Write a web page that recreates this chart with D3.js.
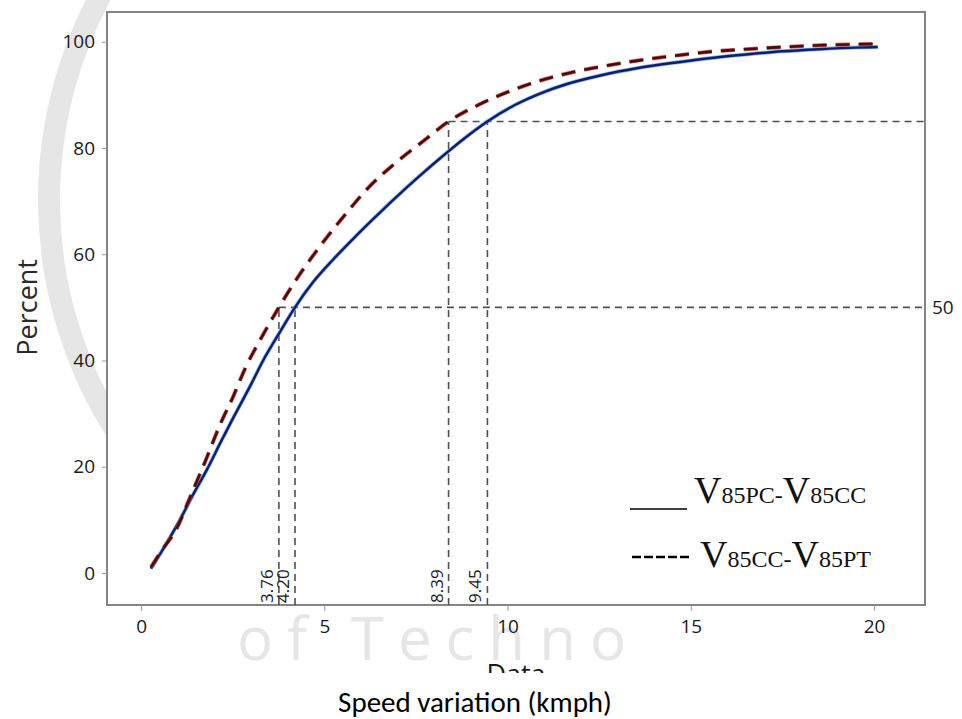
<!DOCTYPE html>
<html>
<head>
<meta charset="utf-8">
<style>
  body { margin: 0; background: #fff; }
  svg { display: block; }
</style>
</head>
<body>
<script src="https://cdn.jsdelivr.net/npm/d3@7"></script>
<script>
// cumulative curves (x = speed variation, y = percent)
const solidX = [0.27, 0.6, 1.06, 1.4, 1.8, 2.2, 2.5, 3.0, 3.33, 3.8, 4.2, 4.7, 5.24, 5.8, 6.33, 7.0, 7.61, 8.2, 8.8, 9.45, 10.2, 10.9, 11.6, 12.5, 13.6, 14.6, 15.5, 16.5, 17.5, 18.5, 19.5, 20.1];
const solidY = [0.8, 4.5, 10, 14.5, 19.5, 25, 29, 35.5, 40, 45.5, 50, 54.8, 59, 63, 66.6, 71, 74.8, 78.3, 81.7, 85, 88.1, 90.3, 92.0, 93.6, 95.1, 96.1, 96.9, 97.6, 98.2, 98.6, 98.9, 99];
const dashX = [0.27, 0.52, 0.98, 1.34, 1.75, 2.16, 2.5, 2.84, 3.3, 3.76, 4.26, 4.97, 5.62, 6.17, 6.98, 7.7, 8.39, 9.17, 9.99, 10.9, 11.8, 12.7, 13.6, 14.6, 15.5, 16.5, 17.5, 18.4, 20.1];
const dashY = [1.1, 3.8, 8.5, 14.3, 21, 28, 33, 38.5, 44.5, 50, 55.5, 62.3, 67.9, 72.3, 77.4, 81.3, 85, 88, 90.5, 92.7, 94.3, 95.5, 96.5, 97.4, 98.1, 98.6, 99, 99.3, 99.6];

// reference drop lines
const refX = [3.76, 4.20, 8.39, 9.45];
const refLevel = [50, 50, 85, 85];
const refLabels = ['3.76', '4.20', '8.39', '9.45'];
const hLevels = [50, 85];
const hStart = [3.76, 8.39];
const hLabels = ['50', ''];

const xTicks = [0, 5, 10, 15, 20];
const yTicks = [0, 20, 40, 60, 80, 100];

const legendNames = [['85PC', '85CC'], ['85CC', '85PT']];

const WIDTH = 962;
const HEIGHT = 719;
const LEFT = 107, RIGHT = 925, TOP = 12, BOTTOM = 605;
const FONT = "'Open Sans', 'DejaVu Sans', sans-serif";

const svg = d3.select('body').append('svg')
  .attr('width', WIDTH)
  .attr('height', HEIGHT);

// faint watermark behind everything
const wm = svg.append('g').attr('fill', '#e6e6e6');
wm.append('path')
  .attr('transform', 'translate(480,200)')
  .attr('d', d3.arc().innerRadius(420).outerRadius(442).startAngle(-2.15).endAngle(-1.0)());
wm.append('text')
  .attr('x', 237).attr('y', 660)
  .attr('font-family', FONT)
  .attr('font-size', 60)
  .attr('letter-spacing', 14)
  .text('of Techno');

const x = d3.scaleLinear().domain([-0.93, 21.39]).range([LEFT, RIGHT]);
const y = d3.scaleLinear().domain([-6.03, 105.6]).range([BOTTOM, TOP]);

// plot area
svg.append('rect')
  .attr('x', LEFT).attr('y', TOP)
  .attr('width', RIGHT - LEFT).attr('height', BOTTOM - TOP)
  .attr('fill', 'white')
  .attr('stroke', '#858585')
  .attr('stroke-width', 2);

// axes
const axisY = d3.axisLeft(y).tickValues(yTicks).tickSize(5).tickPadding(7);
const gy = svg.append('g').attr('transform', `translate(${LEFT},0)`).call(axisY);
const axisX = d3.axisBottom(x).tickValues(xTicks).tickSize(6).tickPadding(9);
const gx = svg.append('g').attr('transform', `translate(0,${BOTTOM})`).call(axisX);
[gx, gy].forEach(g => {
  g.select('.domain').remove();
  g.selectAll('.tick line').attr('stroke', '#999');
  g.selectAll('.tick text')
    .attr('font-family', FONT)
    .attr('font-size', 19)
    .attr('fill', '#1a1a1a');
});

// dashed drop lines
const refStyle = sel => sel
  .attr('stroke', '#505050')
  .attr('stroke-width', 1.6)
  .attr('stroke-dasharray', '7,5')
  .attr('fill', 'none');

svg.append('g').selectAll('line')
  .data(hLevels)
  .join('line')
  .attr('x1', (d, i) => x(hStart[i]))
  .attr('x2', RIGHT)
  .attr('y1', d => y(d))
  .attr('y2', d => y(d))
  .call(refStyle);

svg.append('g').selectAll('line')
  .data(refX)
  .join('line')
  .attr('x1', d => x(d))
  .attr('x2', d => x(d))
  .attr('y1', BOTTOM)
  .attr('y2', (d, i) => y(refLevel[i]))
  .call(refStyle);

svg.append('g').selectAll('text')
  .data(refX)
  .join('text')
  .attr('transform', d => `translate(${x(d) - 6},${BOTTOM - 2}) rotate(-90)`)
  .attr('font-family', FONT)
  .attr('font-size', 17)
  .attr('fill', '#1a1a1a')
  .text((d, i) => refLabels[i]);

svg.append('g').selectAll('text')
  .data(hLevels)
  .join('text')
  .attr('x', RIGHT + 7)
  .attr('y', d => y(d))
  .attr('dy', '0.35em')
  .attr('font-family', FONT)
  .attr('font-size', 19)
  .attr('fill', '#1a1a1a')
  .text((d, i) => hLabels[i]);

// curves
const line = d3.line()
  .x(d => x(d[0]))
  .y(d => y(d[1]))
  .curve(d3.curveMonotoneX);

const solidPts = d3.zip(solidX, solidY);
const dashPts = d3.zip(dashX, dashY);

svg.append('path').datum(solidPts)
  .attr('d', line)
  .attr('fill', 'none')
  .attr('stroke', '#5aa0e0')
  .attr('stroke-width', 4)
  .attr('stroke-opacity', 0.7);
svg.append('path').datum(solidPts)
  .attr('d', line)
  .attr('fill', 'none')
  .attr('stroke', '#101c6e')
  .attr('stroke-width', 2.4);

svg.append('path').datum(dashPts)
  .attr('d', line)
  .attr('fill', 'none')
  .attr('stroke', '#c83a32')
  .attr('stroke-width', 4)
  .attr('stroke-dasharray', '14,9')
  .attr('stroke-opacity', 0.8);
svg.append('path').datum(dashPts)
  .attr('d', line)
  .attr('fill', 'none')
  .attr('stroke', '#4a0c0c')
  .attr('stroke-width', 2.6)
  .attr('stroke-dasharray', '14,9');

// legend (serif, like the typed text box)
const legend = svg.append('g');
const rows = [{ y: 503, sx1: 630, sx2: 687, ly: 509, dash: null, tx: 694 },
              { y: 567, sx1: 632, sx2: 690, ly: 557, dash: '9,3', tx: 700 }];
rows.forEach((r, i) => {
  legend.append('line')
    .attr('x1', r.sx1).attr('x2', r.sx2)
    .attr('y1', r.ly).attr('y2', r.ly)
    .attr('stroke', '#000')
    .attr('stroke-width', r.dash ? 2.6 : 1.6)
    .attr('stroke-dasharray', r.dash);
  const t = legend.append('text')
    .attr('x', r.tx).attr('y', r.y)
    .attr('font-family', "'Liberation Serif', 'DejaVu Serif', serif")
    .attr('fill', '#111');
  t.append('tspan').attr('font-size', 38).text('V');
  t.append('tspan').attr('font-size', 24).text(legendNames[i][0] + '-');
  t.append('tspan').attr('font-size', 38).text('V');
  t.append('tspan').attr('font-size', 24).text(legendNames[i][1]);
});

// axis titles
svg.append('text')
  .attr('transform', `translate(37,${y(50)}) rotate(-90)`)
  .attr('text-anchor', 'middle')
  .attr('font-family', FONT)
  .attr('font-size', 27)
  .attr('fill', '#2a2a2a')
  .text('Percent');

svg.append('text')
  .attr('x', 516).attr('y', 684)
  .attr('text-anchor', 'middle')
  .attr('font-family', FONT)
  .attr('font-size', 27)
  .attr('fill', '#1a1a1a')
  .text('Data');

// caption strip that hides most of the "Data" title
svg.append('rect')
  .attr('x', 0).attr('y', 673)
  .attr('width', WIDTH).attr('height', HEIGHT - 673)
  .attr('fill', 'white');

svg.append('text')
  .attr('x', 475).attr('y', 712)
  .attr('text-anchor', 'middle')
  .attr('font-family', "Carlito, 'Open Sans', sans-serif")
  .attr('font-size', 29)
  .attr('fill', '#000')
  .text('Speed variation (kmph)');
</script>
</body>
</html>
